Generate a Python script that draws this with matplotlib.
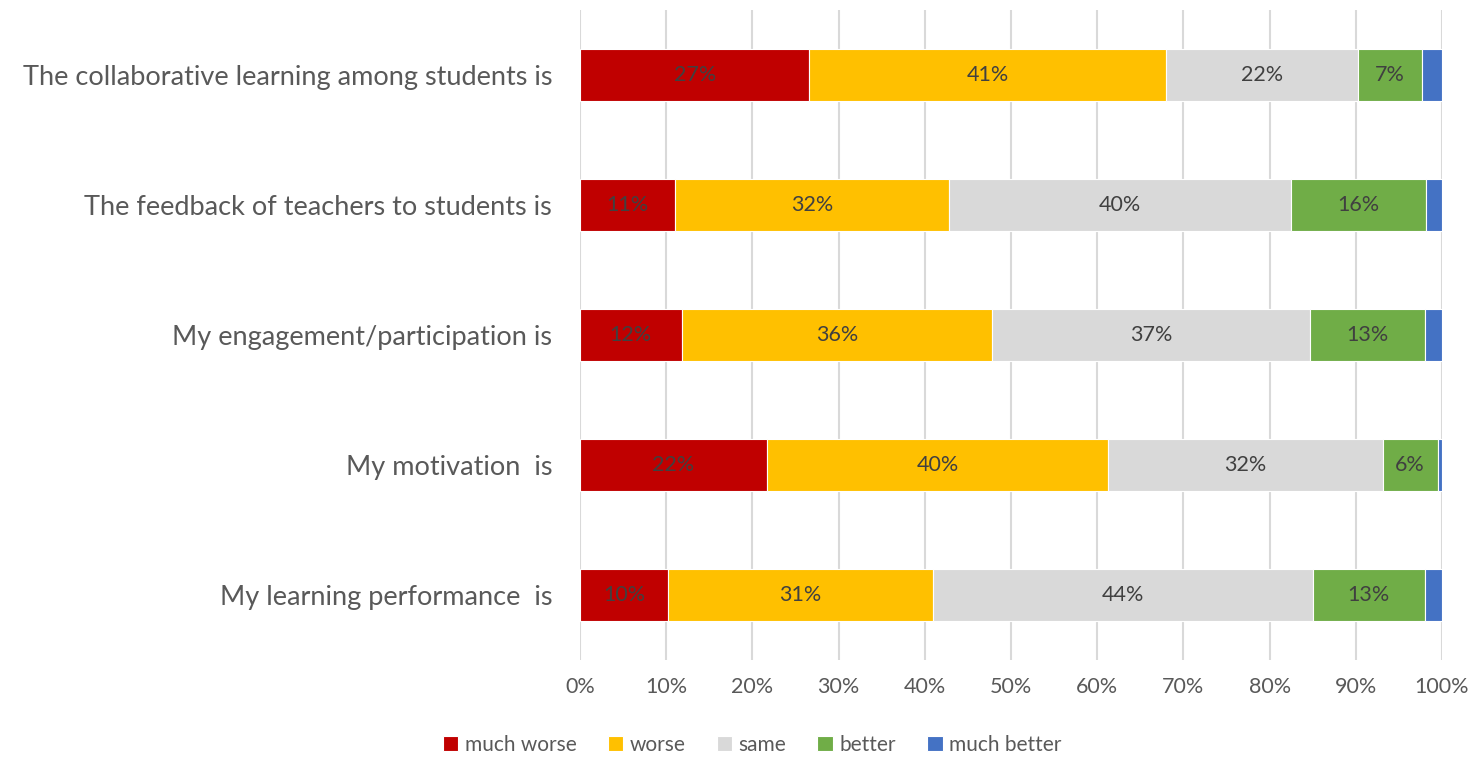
import numpy as np
import matplotlib.pyplot as plt

plt.rcParams['font.family'] = ['Lato', 'DejaVu Sans']

# survey statements, bottom to top
questions = [
    "My learning performance  is",
    "My motivation  is",
    "My engagement/participation is",
    "The feedback of teachers to students is",
    "The collaborative learning among students is",
]

# share of answers per statement (%)
much_worse = [10.2, 21.7, 11.8, 11.0, 26.6]
worse = [30.8, 39.6, 36.0, 31.8, 41.4]
same = [44.0, 31.8, 36.9, 39.7, 22.3]
better = [13.0, 6.4, 13.3, 15.6, 7.4]
much_better = [2.0, 0.5, 2.0, 1.9, 2.3]

series_names = ["much worse", "worse", "same", "better", "much better"]
series = [much_worse, worse, same, better, much_better]
colors = ["#C00000", "#FFC000", "#D9D9D9", "#70AD47", "#4472C4"]

fig = plt.figure(figsize=(14.75, 7.57), dpi=100)
ax = fig.add_axes([580 / 1475, 97 / 757, 862 / 1475, 650 / 757])

y = np.arange(len(questions))
left = np.zeros(len(questions))
for name, vals, col in zip(series_names, series, colors):
    vals = np.array(vals)
    bars = ax.barh(y, vals, left=left, height=0.4, color=col, label=name,
                   edgecolor='white', linewidth=0.8, zorder=3)
    # small segments stay unlabelled
    for rect, v in zip(bars, vals):
        if v >= 3:
            ax.text(rect.get_x() + rect.get_width() / 2, rect.get_y() + rect.get_height() / 2,
                    f"{round(v):d}%", ha='center', va='center', fontsize=15.5,
                    color='#404040', zorder=4)
    left += vals

ax.set_xlim(0, 100)
ax.set_ylim(-0.5, 4.5)
ax.set_xticks(np.arange(0, 101, 10))
ax.set_xticklabels([f"{t}%" for t in range(0, 101, 10)])
ax.set_yticks(y)
ax.set_yticklabels(questions)
ax.tick_params(axis='x', length=0, labelsize=15.5, labelcolor='#595959', pad=12)
ax.tick_params(axis='y', length=0, labelsize=19.5, labelcolor='#595959', pad=20)
ax.grid(axis='x', color='#D9D9D9', linewidth=1.5, zorder=0)
for s in ax.spines.values():
    s.set_visible(False)

fig.legend(loc='center', bbox_to_anchor=(752 / 1475, 1 - 745 / 757), ncol=5,
           frameon=False, fontsize=15, labelcolor='#595959',
           handlelength=0.75, handleheight=0.75, handletextpad=0.3, columnspacing=1.5)

fig.savefig("out.png", dpi=100)
